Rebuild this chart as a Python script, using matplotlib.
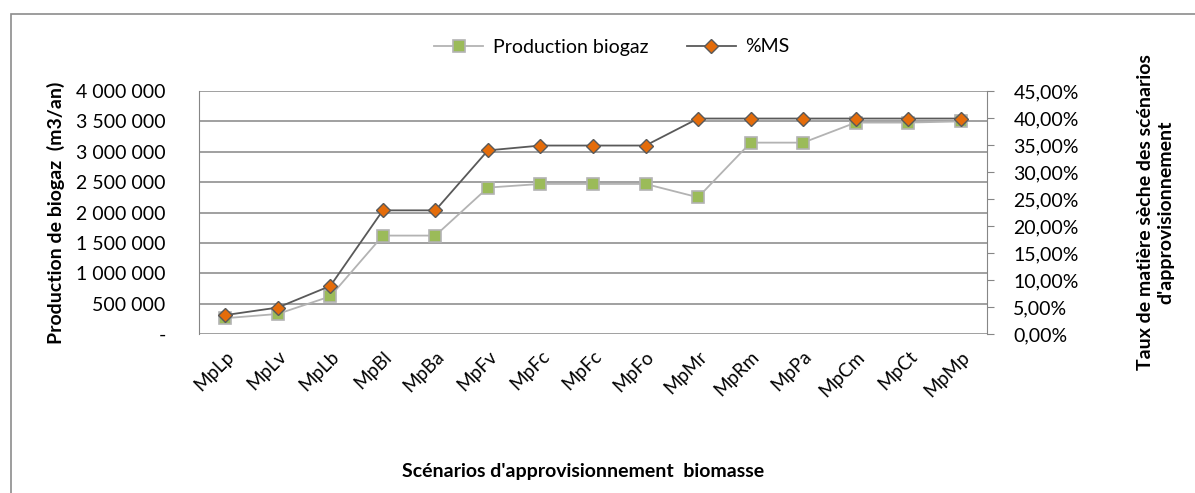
import matplotlib
matplotlib.use("Agg")
import matplotlib.pyplot as plt
from matplotlib.ticker import FuncFormatter, MultipleLocator
from matplotlib.patches import Rectangle

plt.rcParams['font.family'] = ['Lato', 'DejaVu Sans']

# data
scenarios = ['MpLp', 'MpLv', 'MpLb', 'MpBl', 'MpBa', 'MpFv', 'MpFc', 'MpFc',
             'MpFo', 'MpMr', 'MpRm', 'MpPa', 'MpCm', 'MpCt', 'MpMp']
production_biogaz = [260000, 330000, 620000, 1620000, 1620000, 2410000, 2470000, 2470000,
                     2470000, 2250000, 3150000, 3150000, 3480000, 3480000, 3500000]
taux_ms = [3.5, 4.9, 8.9, 22.9, 22.9, 34.0, 34.9, 34.9,
           34.9, 39.9, 39.9, 39.9, 39.9, 39.9, 39.9]

fig = plt.figure(figsize=(11.95, 4.93), dpi=100)
fig.patches.append(Rectangle((11 / 1195, -0.1), 1.2, 1 - 14 / 493 + 0.1, transform=fig.transFigure,
                             fill=False, edgecolor='#8c8c8c', linewidth=1.2))

ax = fig.add_axes([199 / 1195, 1 - 334 / 493, (987 - 199) / 1195, (334 - 91) / 493])
ax2 = ax.twinx()

x = list(range(len(scenarios)))
l1, = ax.plot(x, production_biogaz, color='#b3b3b3', lw=1.3, marker='s', ms=9,
              mfc='#9bbb59', mec='#b3b3b3', mew=1.2, label='Production biogaz', zorder=3)
l2, = ax2.plot(x, taux_ms, color='#595959', lw=1.3, marker='D', ms=7,
               mfc='#e46c0a', mec='#595959', mew=1.0, label='%MS', zorder=4)

ax.set_xlim(-0.5, len(scenarios) - 0.5)
ax.set_ylim(0, 4000000)
ax.yaxis.set_major_locator(MultipleLocator(500000))
ax.yaxis.set_major_formatter(FuncFormatter(
    lambda v, p: '-' if v == 0 else f'{int(v):,}'.replace(',', ' ')))
ax2.set_ylim(0, 45)
ax2.yaxis.set_major_locator(MultipleLocator(5))
ax2.yaxis.set_major_formatter(FuncFormatter(lambda v, p: f'{v:.2f}%'.replace('.', ',')))

ax.grid(axis='y', color='#868686', lw=1.1)
ax.set_axisbelow(True)
for a in (ax, ax2):
    for s in ('top', 'bottom'):
        a.spines[s].set_visible(False)
    a.spines['left'].set_color('#868686')
    a.spines['right'].set_color('#868686')
ax2.spines['left'].set_visible(False)
ax.spines['right'].set_visible(False)

ax.set_xticks(x)
ax.set_xticklabels(scenarios, rotation=45, ha='right', va='top', rotation_mode='anchor', fontsize=13.5)
ax.tick_params(axis='x', length=0, pad=10)
ax.tick_params(axis='y', length=0, pad=24, labelsize=14)
ax2.tick_params(axis='y', length=5, color='#868686', pad=14, labelsize=14)

ax.set_ylabel('Production de biogaz  (m3/an)', fontsize=14, fontweight='bold', labelpad=8)
ax2.set_ylabel("Taux de matière sèche des scénarios\nd'approvisionnement", fontsize=14,
               fontweight='bold', labelpad=42)
fig.text(583 / 1195, 1 - 472 / 493, "Scénarios d'approvisionnement  biomasse", ha='center',
         va='center', fontsize=14, fontweight='bold')

fig.legend([l1, l2], ['Production biogaz', '%MS'], loc='center', ncol=2, frameon=False,
           bbox_to_anchor=(612 / 1195, 1 - 47 / 493), fontsize=14, columnspacing=2.0,
           handlelength=2.5, handletextpad=0.5)

fig.savefig('out.png', dpi=100)
